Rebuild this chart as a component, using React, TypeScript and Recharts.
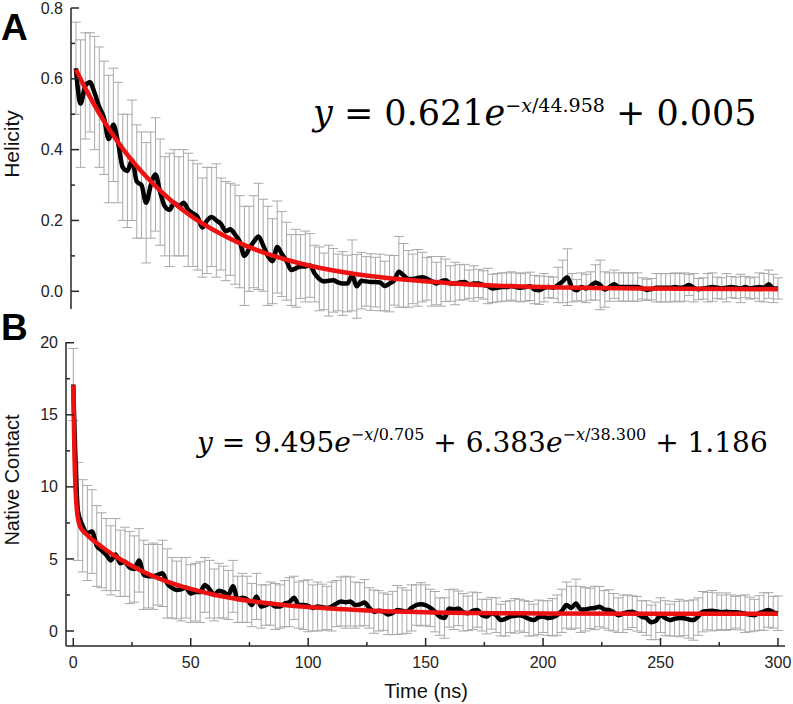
import React from 'react';
import { LineChart, Line, XAxis, YAxis, ErrorBar } from 'recharts';

// sampling step of the simulation averages (ns)
const STEP = 2;

// Panel A: helicity, mean and error, one value every 2 ns from 0 to 300
const helicity = [
  0.63, 0.53, 0.58, 0.59, 0.56, 0.52, 0.49, 0.43, 0.47, 0.42,
  0.35, 0.34, 0.37, 0.31, 0.30, 0.25, 0.30, 0.33, 0.28, 0.24,
  0.23, 0.25, 0.24, 0.25, 0.23, 0.22, 0.21, 0.18, 0.20, 0.21,
  0.20, 0.19, 0.17, 0.175, 0.16, 0.14, 0.10, 0.12, 0.14, 0.155,
  0.13, 0.10, 0.085, 0.125, 0.105, 0.085, 0.06, 0.065, 0.07, 0.07,
  0.073, 0.05, 0.035, 0.028, 0.03, 0.031, 0.025, 0.022, 0.022, 0.045,
  0.014, 0.03, 0.028, 0.026, 0.026, 0.025, 0.015, 0.022, 0.031, 0.055,
  0.045, 0.035, 0.035, 0.038, 0.04, 0.035, 0.028, 0.022, 0.028, 0.031,
  0.022, 0.022, 0.025, 0.026, 0.02, 0.022, 0.022, 0.018, 0.015, 0.008,
  0.01, 0.012, 0.012, 0.015, 0.012, 0.01, 0.012, 0.014, 0.005, 0.003,
  0.01, 0.012, 0.01, 0.018, 0.028, 0.04, 0.01, 0.003, 0.012, 0.008,
  0.015, 0.025, 0.018, 0.005, 0.012, 0.02, 0.012, 0.012, 0.012, 0.012,
  0.012, 0.008, 0.004, 0.006, 0.01, 0.01, 0.01, 0.01, 0.012, 0.01,
  0.012, 0.018, 0.01, 0.006, 0.008, 0.01, 0.012, 0.01, 0.008, 0.01,
  0.012, 0.01, 0.008, 0.012, 0.008, 0.01, 0.012, 0.01, 0.02, 0.008,
  0.008,
];
const helicityErr = [
  0.13, 0.18, 0.15, 0.14, 0.16, 0.17, 0.16, 0.18, 0.16, 0.17,
  0.15, 0.16, 0.17, 0.16, 0.15, 0.17, 0.15, 0.16, 0.15, 0.14,
  0.16, 0.15, 0.14, 0.15, 0.16, 0.15, 0.15, 0.14, 0.15, 0.14,
  0.16, 0.13, 0.14, 0.13, 0.14, 0.13, 0.14, 0.12, 0.13, 0.15,
  0.13, 0.14, 0.12, 0.13, 0.12, 0.11, 0.10, 0.11, 0.09, 0.10,
  0.09, 0.08, 0.09, 0.08, 0.10, 0.09, 0.08, 0.09, 0.08, 0.10,
  0.09, 0.08, 0.07, 0.08, 0.07, 0.08, 0.07, 0.08, 0.07, 0.10,
  0.09, 0.08, 0.07, 0.08, 0.07, 0.06, 0.07, 0.06, 0.07, 0.06,
  0.05, 0.06, 0.05, 0.05, 0.04, 0.05, 0.04, 0.04, 0.05, 0.04,
  0.04, 0.04, 0.04, 0.04, 0.04, 0.04, 0.04, 0.04, 0.04, 0.04,
  0.04, 0.03, 0.03, 0.05, 0.06, 0.08, 0.04, 0.03, 0.04, 0.04,
  0.04, 0.05, 0.07, 0.05, 0.04, 0.04, 0.04, 0.04, 0.04, 0.04,
  0.04, 0.03, 0.03, 0.03, 0.04, 0.04, 0.04, 0.04, 0.04, 0.04,
  0.04, 0.03, 0.04, 0.03, 0.03, 0.04, 0.04, 0.03, 0.03, 0.04,
  0.03, 0.03, 0.04, 0.03, 0.03, 0.03, 0.04, 0.04, 0.04, 0.04,
  0.03,
];

// Panel B: native contacts
const contact = [
  17.1, 8.3, 7.3, 6.8, 6.9, 5.9, 5.6, 5.3, 4.9, 5.3,
  4.7, 4.8, 4.4, 4.3, 4.9, 3.9, 3.8, 3.8, 3.9, 4.0,
  3.3, 3.0, 2.85, 2.9, 3.0, 2.6, 2.7, 2.7, 3.2, 2.9,
  2.5, 2.8, 2.7, 2.5, 3.1, 2.2, 2.3, 2.2, 1.8, 2.4,
  1.7, 1.8, 1.9, 1.7, 1.7, 1.9, 2.0, 2.3, 1.8, 1.8,
  1.75, 1.6, 1.7, 1.65, 1.6, 1.7, 1.9, 2.05, 2.0, 2.05,
  1.8, 1.85, 1.97, 1.6, 1.34, 1.4, 1.34, 1.15, 1.25, 1.46,
  1.4, 1.34, 1.6, 1.8, 1.85, 1.8, 1.6, 1.34, 1.0, 0.9,
  1.57, 1.5, 1.57, 1.3, 1.23, 1.4, 1.46, 1.1, 1.0, 1.23,
  1.1, 0.76, 0.85, 1.0, 1.05, 1.1, 1.0, 0.85, 0.76, 0.95,
  1.0, 0.9, 0.95, 1.1, 1.4, 1.8, 1.6, 1.9, 1.5, 1.5,
  1.57, 1.6, 1.69, 1.5, 1.46, 1.3, 1.1, 1.2, 1.3, 1.34,
  1.2, 1.0, 0.9, 0.6, 0.7, 1.1, 0.9, 0.76, 0.85, 0.9,
  0.88, 0.8, 0.76, 1.0, 1.34, 1.38, 1.41, 1.35, 1.3, 1.34,
  1.3, 1.3, 1.27, 1.2, 1.15, 1.1, 1.25, 1.35, 1.46, 1.3,
  1.23,
];
const contactErr = [
  2.5, 3.4, 3.2, 3.3, 2.9, 2.8, 2.6, 2.5, 2.4, 2.5,
  2.3, 2.4, 2.5, 2.3, 2.2, 2.4, 2.2, 2.3, 2.1, 2.3,
  2.4, 2.1, 2.0, 2.2, 2.1, 2.0, 2.0, 2.1, 1.9, 2.0,
  1.8, 1.9, 1.8, 1.7, 1.8, 1.6, 1.7, 1.6, 1.5, 1.6,
  1.5, 1.4, 1.5, 1.6, 1.5, 1.6, 1.7, 1.5, 1.6, 1.7,
  1.8, 1.6, 1.7, 1.6, 1.5, 1.7, 1.6, 1.7, 1.8, 1.7,
  1.6, 1.5, 1.6, 1.4, 1.5, 1.4, 1.3, 1.4, 1.5, 1.7,
  1.6, 1.5, 1.6, 1.4, 1.5, 1.4, 1.3, 1.4, 1.3, 1.4,
  1.3, 1.4, 1.2, 1.3, 1.2, 1.3, 1.2, 1.1, 1.2, 1.1,
  1.2, 1.1, 1.2, 1.1, 1.2, 1.1, 1.1, 1.2, 1.1, 1.2,
  1.1, 1.2, 1.3, 1.4, 1.5, 1.6, 1.5, 1.7, 1.6, 1.5,
  1.4, 1.5, 1.4, 1.3, 1.4, 1.3, 1.2, 1.3, 1.2, 1.1,
  1.2, 1.1, 1.2, 1.2, 1.3, 1.2, 1.2, 1.1, 1.2, 1.3,
  1.2, 1.3, 1.4, 1.3, 1.4, 1.3, 1.4, 1.3, 1.2, 1.3,
  1.2, 1.1, 1.2, 1.3, 1.2, 1.1, 1.2, 1.3, 1.2, 1.1,
  1.2,
];

// fitted curves (red)
const fitTimeA = [0, 5, 10, 15, 20, 25, 30, 40, 50, 60, 70, 80, 90, 100, 120, 140, 160, 180, 200, 240, 300];
const fitA = [0.626, 0.561, 0.502, 0.45, 0.403, 0.361, 0.324, 0.26, 0.209, 0.169, 0.136, 0.11, 0.089, 0.072, 0.048, 0.033, 0.023, 0.016, 0.012, 0.008, 0.006];
const fitTimeB = [0, 0.5, 1, 1.5, 2, 3, 4, 6, 10, 15, 20, 30, 40, 50, 60, 80, 100, 125, 150, 200, 250, 300];
const fitB = [17.06, 12.16, 9.7, 8.45, 7.8, 7.22, 6.97, 6.64, 6.1, 5.5, 4.98, 4.1, 3.43, 2.92, 2.52, 1.98, 1.66, 1.43, 1.31, 1.22, 1.19, 1.19];

const xTicks = [0, 25, 50, 75, 100, 125, 150, 175, 200, 225, 250, 275, 300];
const yTicksA = [0, 0.1, 0.2, 0.3, 0.4, 0.5, 0.6, 0.7, 0.8];
const yTicksB = [0, 2.5, 5, 7.5, 10, 12.5, 15, 17.5, 20];

const dataA = helicity.map((v, i) => ({ t: i * STEP, v, err: helicityErr[i] }));
const dataB = contact.map((v, i) => ({ t: i * STEP, v, err: contactErr[i] }));
const fitDataA = fitTimeA.map((t, i) => ({ t, v: fitA[i] }));
const fitDataB = fitTimeB.map((t, i) => ({ t, v: fitB[i] }));

const AXIS = '#262626';
const SANS = '"Liberation Sans", Arial, sans-serif';
const SERIF = '"DejaVu Serif", serif';

const BottomTick = (props: any) => {
  const { x, y, payload, showLabel } = props;
  const major = payload.value % 50 === 0;
  return (
    <g>
      <line x1={x} x2={x} y1={y} y2={y - (major ? 8 : 4)} stroke={AXIS} strokeWidth={1.5} />
      {showLabel && major && (
        <text x={x} y={y + 22} textAnchor="middle" fontSize={16} fill="#222" fontFamily={SANS}>
          {payload.value}
        </text>
      )}
    </g>
  );
};

const LeftTick = (props: any) => {
  const { x, y, payload, isMajor, fmt } = props;
  const major = isMajor(payload.value);
  return (
    <g>
      <line x1={x} x2={x + (major ? 8 : 4)} y1={y} y2={y} stroke={AXIS} strokeWidth={1.5} />
      {major && (
        <text x={x - 8} y={y} dy="0.35em" textAnchor="end" fontSize={16} fill="#222" fontFamily={SANS}>
          {fmt(payload.value)}
        </text>
      )}
    </g>
  );
};

interface PanelProps {
  data: any[];
  fit: any[];
  xDomain: [number, number];
  yDomain: [number, number];
  yTicks: number[];
  height: number;
  margin: any;
  yWidth: number;
  xHeight: number;
  showXLabels: boolean;
  isMajor: (v: number) => boolean;
  fmt: (v: number) => string;
}

const Panel: React.FC<PanelProps> = ({ data, fit, xDomain, yDomain, yTicks, height, margin, yWidth, xHeight, showXLabels, isMajor, fmt }) => (
  <LineChart width={793} height={height} margin={margin}>
    <XAxis
      dataKey="t"
      type="number"
      domain={xDomain}
      allowDataOverflow
      ticks={xTicks}
      interval={0}
      height={xHeight}
      tickSize={0}
      tickMargin={0}
      tickLine={false}
      axisLine={{ stroke: AXIS, strokeWidth: 1.5 }}
      tick={(p: any) => <BottomTick {...p} showLabel={showXLabels} />}
    />
    <XAxis xAxisId="top" orientation="top" type="number" domain={xDomain} height={0} tick={false} tickLine={false} axisLine={{ stroke: AXIS, strokeWidth: 1.5 }} />
    <YAxis
      type="number"
      domain={yDomain}
      allowDataOverflow
      ticks={yTicks}
      interval={0}
      width={yWidth}
      tickSize={0}
      tickMargin={0}
      tickLine={false}
      axisLine={{ stroke: AXIS, strokeWidth: 1.5 }}
      tick={(p: any) => <LeftTick {...p} isMajor={isMajor} fmt={fmt} />}
    />
    <YAxis yAxisId="right" orientation="right" type="number" domain={yDomain} width={0} tick={false} tickLine={false} axisLine={{ stroke: AXIS, strokeWidth: 1.5 }} />
    {/* error bars first so the mean line sits on top */}
    <Line data={data} dataKey="v" stroke="none" dot={false} activeDot={false} isAnimationActive={false}>
      <ErrorBar dataKey="err" width={5} stroke="#a9a9a9" strokeWidth={1} direction="y" />
    </Line>
    <Line data={data} dataKey="v" type="monotone" stroke="#000" strokeWidth={4.5} dot={false} activeDot={false} isAnimationActive={false} />
    <Line data={fit} dataKey="v" type="monotone" stroke="#ee1111" strokeWidth={4.5} dot={false} activeDot={false} isAnimationActive={false} />
  </LineChart>
);

export default function App() {
  return (
    <div style={{ position: 'absolute', left: 0, top: 0, width: 793, height: 704, background: '#fff', fontFamily: SANS }}>
      <div style={{ position: 'absolute', left: 0, top: 0 }}>
        <Panel
          data={dataA}
          fit={fitDataA}
          xDomain={[-2.1, 303.4]}
          yDomain={[-0.05, 0.8]}
          yTicks={yTicksA}
          height={330}
          margin={{ top: 8, right: 7, bottom: 21, left: 0 }}
          yWidth={71}
          xHeight={0}
          showXLabels={false}
          isMajor={(v) => Math.round(v * 10) % 2 === 0}
          fmt={(v) => v.toFixed(1)}
        />
      </div>
      <div style={{ position: 'absolute', left: 0, top: 330 }}>
        <Panel
          data={dataB}
          fit={fitDataB}
          xDomain={[-3.1, 303]}
          yDomain={[-1.04, 20.05]}
          yTicks={yTicksB}
          height={374}
          margin={{ top: 12, right: 8, bottom: 0, left: 0 }}
          yWidth={66}
          xHeight={58}
          showXLabels
          isMajor={(v) => v % 5 === 0}
          fmt={(v) => String(v)}
        />
      </div>
      <svg width={793} height={704} style={{ position: 'absolute', left: 0, top: 0, pointerEvents: 'none' }}>
        <text x={1} y={40} fontSize={37} fontWeight="bold" fill="#000" fontFamily={SANS}>A</text>
        <text x={1} y={340} fontSize={37} fontWeight="bold" fill="#000" fontFamily={SANS}>B</text>
        <text transform="translate(19,144) rotate(-90)" textAnchor="middle" fontSize={21} fill="#111" fontFamily={SANS}>Helicity</text>
        <text transform="translate(19,480) rotate(-90)" textAnchor="middle" fontSize={20} fill="#111" fontFamily={SANS}>Native Contact</text>
        <text x={426} y={698} textAnchor="middle" fontSize={20} fill="#111" fontFamily={SANS}>Time (ns)</text>
        <text x={313} y={125} fontSize={35} fill="#000" fontFamily={SERIF} style={{ whiteSpace: 'pre' }}>
          <tspan fontStyle="italic">y</tspan>
          <tspan>{' = 0.621'}</tspan>
          <tspan fontStyle="italic">e</tspan>
          <tspan fontSize={19} dy={-13}>{'−'}</tspan>
          <tspan fontSize={19} fontStyle="italic">x</tspan>
          <tspan fontSize={19}>{'/44.958'}</tspan>
          <tspan dy={13}>{' + 0.005'}</tspan>
        </text>
        <text x={197} y={452} fontSize={28} fill="#000" fontFamily={SERIF} style={{ whiteSpace: 'pre' }}>
          <tspan fontStyle="italic">y</tspan>
          <tspan>{' = 9.495'}</tspan>
          <tspan fontStyle="italic">e</tspan>
          <tspan fontSize={16} dy={-12}>{'−'}</tspan>
          <tspan fontSize={16} fontStyle="italic">x</tspan>
          <tspan fontSize={16}>{'/0.705'}</tspan>
          <tspan dy={12}>{' + 6.383'}</tspan>
          <tspan fontStyle="italic">e</tspan>
          <tspan fontSize={16} dy={-12}>{'−'}</tspan>
          <tspan fontSize={16} fontStyle="italic">x</tspan>
          <tspan fontSize={16}>{'/38.300'}</tspan>
          <tspan dy={12}>{' + 1.186'}</tspan>
        </text>
      </svg>
    </div>
  );
}
